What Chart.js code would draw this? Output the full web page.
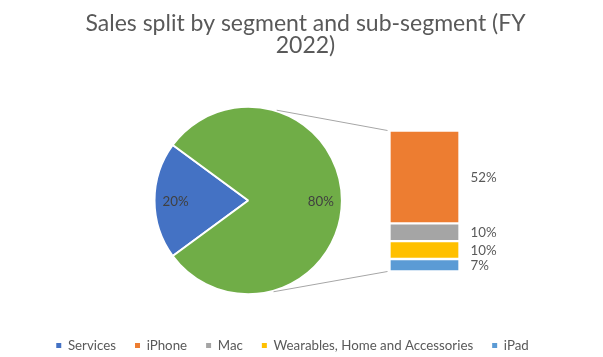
<!DOCTYPE html>
<html><head><meta charset="utf-8">
<script src="https://cdn.jsdelivr.net/npm/chart.js@4"></script>
<style>
html,body{margin:0;padding:0;background:#fff;overflow:hidden}
#wrap{position:relative;width:603px;height:357px;background:#fff}
canvas{position:absolute;left:0;top:0}
</style></head>
<body>
<div id="wrap"><canvas id="pie" width="603" height="357"></canvas><canvas id="bar" width="603" height="357"></canvas></div>
<script>
// ---- data ----
const titleLines = ['Sales split by segment and sub-segment (FY', '2022)'];
const pieCategories = ['Services', 'Other'];
const servicesValue = 20;
const subCategories = ['iPhone', 'Mac', 'Wearables, Home and Accessories', 'iPad'];
const subValues = [52, 10, 10, 7];
const legendCategories = ['Services', 'iPhone', 'Mac', 'Wearables, Home and Accessories', 'iPad'];

// ---- styles ----
const COLORS = {
  'Services': '#4472C4', 'Other': '#70AD47', 'iPhone': '#ED7D31', 'Mac': '#A5A5A5',
  'Wearables, Home and Accessories': '#FFC000', 'iPad': '#5B9BD5'
};
const FONT = 'Lato';
const TEXT = '#595959';
const PIE_CX = 248.2, PIE_CY = 200.5, PIE_R = 93.7;

const otherValue = subValues.reduce((a, b) => a + b, 0);
const pieValues = [servicesValue, otherValue];
const pieTotal = pieValues.reduce((a, b) => a + b, 0);

const pieLayout = {
  id: 'pieLayout',
  afterLayout(chart) {
    const a = chart.chartArea;
    const half = PIE_R + 1;
    a.left = PIE_CX - half; a.right = PIE_CX + half;
    a.top = PIE_CY - half; a.bottom = PIE_CY + half;
    a.width = 2 * half; a.height = 2 * half;
    const t = chart.titleBlock; t.left += 4; t.right += 4;
    const l = chart.legend; l.left -= 9; l.right -= 9; l.top += 5.2; l.bottom += 5.2;
  }
};

const pieLabels = {
  id: 'pieLabels',
  afterDatasetsDraw(chart) {
    const ctx = chart.ctx;
    ctx.save();
    ctx.font = '13.3px ' + FONT;
    ctx.fillStyle = '#404040';
    ctx.textAlign = 'center';
    ctx.textBaseline = 'middle';
    chart.getDatasetMeta(0).data.forEach((arc, i) => {
      const mid = (arc.startAngle + arc.endAngle) / 2;
      const r = arc.outerRadius * 0.775;
      ctx.fillText(Math.round(pieValues[i] / pieTotal * 100) + '%', arc.x + Math.cos(mid) * r, arc.y + Math.sin(mid) * r + 1);
    });
    ctx.restore();
  }
};

const pieChart = new Chart(document.getElementById('pie'), {
  type: 'pie',
  data: {
    labels: pieCategories,
    datasets: [{
      data: pieValues,
      backgroundColor: pieCategories.map(c => COLORS[c]),
      borderColor: '#ffffff',
      borderWidth: 2
    }]
  },
  options: {
    responsive: false, animation: false, events: [],
    rotation: 270 - 180 * servicesValue / pieTotal,
    layout: { padding: 0 },
    plugins: {
      title: {
        display: true, text: titleLines, color: TEXT,
        font: { family: FONT, size: 23, weight: 'normal', lineHeight: 0.987 },
        padding: { top: 12, bottom: 10 }
      },
      legend: {
        display: true, position: 'bottom',
        labels: {
          font: { family: FONT, size: 13.3 }, color: TEXT,
          boxWidth: 5, boxHeight: 5, padding: 19,
          generateLabels: () => legendCategories.map(n => ({
            text: n, fillStyle: COLORS[n], strokeStyle: COLORS[n], lineWidth: 0, hidden: false, fontColor: TEXT
          }))
        }
      },
      tooltip: { enabled: false }
    }
  },
  plugins: [pieLayout, pieLabels]
});

const barLabels = {
  id: 'barLabels',
  afterDatasetsDraw(chart) {
    const ctx = chart.ctx;
    ctx.save();
    ctx.font = '13.3px ' + FONT;
    ctx.fillStyle = TEXT;
    ctx.textAlign = 'left';
    ctx.textBaseline = 'middle';
    chart.data.datasets.forEach((ds, di) => {
      const el = chart.getDatasetMeta(di).data[0];
      ctx.fillText(ds.data[0] + '%', el.x + el.width / 2 + 11, (el.y + el.base) / 2 + 0.5);
    });
    ctx.restore();
  }
};

const connectors = {
  id: 'connectors',
  afterDatasetsDraw(chart) {
    const arc = pieChart.getDatasetMeta(0).data[0];
    const n = chart.data.datasets.length;
    const topEl = chart.getDatasetMeta(n - 1).data[0];
    const botEl = chart.getDatasetMeta(0).data[0];
    const left = topEl.x - topEl.width / 2 - 2;
    const r = arc.outerRadius + 1;
    const aTop = 17.5 * Math.PI / 180, aBot = 15.5 * Math.PI / 180;
    const ctx = chart.ctx;
    ctx.save();
    ctx.strokeStyle = '#A6A6A6';
    ctx.lineWidth = 1;
    ctx.beginPath();
    ctx.moveTo(arc.x + r * Math.sin(aTop), arc.y - r * Math.cos(aTop));
    ctx.lineTo(left, topEl.y);
    ctx.moveTo(arc.x + r * Math.sin(aBot), arc.y + r * Math.cos(aBot));
    ctx.lineTo(left, botEl.base);
    ctx.stroke();
    ctx.restore();
  }
};

const barChart = new Chart(document.getElementById('bar'), {
  type: 'bar',
  data: {
    labels: ['Other'],
    datasets: subCategories.map((name, i) => ({
      label: name,
      data: [subValues[i]],
      backgroundColor: COLORS[name],
      borderColor: '#ffffff',
      borderWidth: 1.5,
      borderSkipped: false
    })).reverse()
  },
  options: {
    responsive: false, animation: false, events: [],
    layout: { padding: { left: 389.5, right: 143.5, top: 130.5, bottom: 85.5 } },
    datasets: { bar: { barPercentage: 1, categoryPercentage: 1 } },
    scales: {
      x: { display: false, stacked: true },
      y: { display: false, stacked: true, min: 0, max: otherValue }
    },
    plugins: { legend: { display: false }, title: { display: false }, tooltip: { enabled: false } }
  },
  plugins: [barLabels, connectors]
});
</script>
</body></html>
